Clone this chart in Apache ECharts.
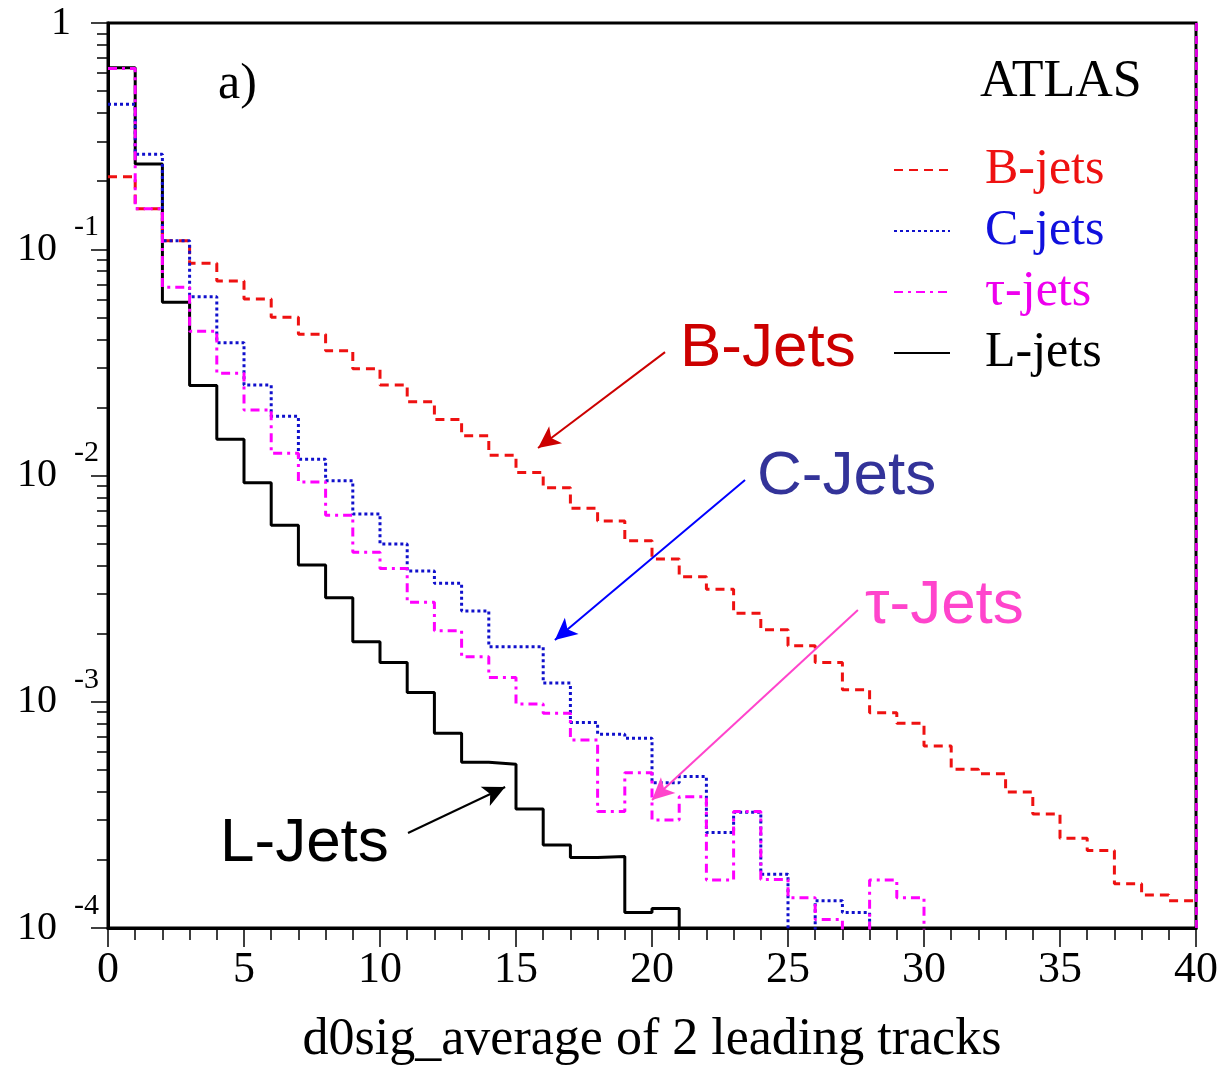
<!DOCTYPE html>
<html><head><meta charset="utf-8">
<script src="https://cdn.jsdelivr.net/npm/echarts@6/dist/echarts.min.js"></script>
<style>html,body{margin:0;padding:0;background:#fff}#c{width:1221px;height:1065px}</style>
</head><body><div id="c"></div>
<script>
// bin lower edges (bin width 1), last edge 40
const binEdges = [0,1,2,3,4,5,6,7,8,9,10,11,12,13,14,15,16,17,18,19,20,21,22,23,24,25,26,27,28,29,30,31,32,33,34,35,36,37,38,39,40];
const xTickLabels = [0,5,10,15,20,25,30,35,40];
const yTickValues = [1e-4,1e-3,1e-2,1e-1,1];

const bJets = [0.209,0.151,0.109,0.0867,0.0724,0.0603,0.0500,0.0421,0.0356,0.0296,
  0.0251,0.0212,0.0177,0.0150,0.0123,0.0103,0.00883,0.00716,0.00629,0.00515,
  0.00428,0.00357,0.00314,0.00246,0.00208,0.00177,0.00149,0.00113,0.000895,0.000803,
  0.000637,0.000503,0.00048,0.000399,0.000319,0.000249,0.00022,0.000157,0.00014,0.000132];
const cJets = [0.437,0.263,0.109,0.0617,0.0386,0.0251,0.01827,0.0118,0.00948,0.00676,
  0.00498,0.00378,0.00334,0.00252,0.00175,0.00175,0.00121,0.00081,0.000718,0.000689,
  0.000439,0.000467,0.000264,0.000325,0.000173,0,0.000132,0.000117,0,0,
  0,0,0,0,0,0,0,0,0,0];
const tauJets = [0.63,0.151,0.068,0.0434,0.0283,0.0195,0.01254,0.00936,0.00667,0.00458,
  0.00388,0.00275,0.00206,0.00158,0.00128,0.000978,0.000889,0.000678,0.000327,0.000486,
  0.0003,0.00038,0.000163,0.000327,0.000164,0.000136,0.000109,0,0.000163,0.000136,
  0,0,0,0,0,0,0,0,0,0];
const lJets = [0.634,0.238,0.0583,0.0250,0.01445,0.00929,0.00603,0.00402,0.00288,0.00184,
  0.00149,0.0011,0.000725,0.00054,0.00053,0.000336,0.000233,0.000205,0.000207,0.000117,
  0.000122,0,0,0,0,0,0,0,0,0,
  0,0,0,0,0,0,0,0,0,0];

// annotation arrows in data coordinates [from, to]
const arrowB = [[20.48,0.0351],[15.81,0.01323]];
const arrowC = [[23.42,0.00955],[16.43,0.001875]];
const arrowTau = [[27.57,0.002545],[20.0,0.000368]];
const arrowL = [[11.03,0.000263],[14.60,0.00042]];

const Y_MIN = 1e-4, Y_MAX = 1;
const minorYTicks = [];
[1e-4,1e-3,1e-2,1e-1].forEach(d => { for (let m = 2; m <= 9; m++) minorYTicks.push(+(d*m).toPrecision(3)); });

// empty bins drop below the axis (clipped), as on a ROOT log plot
function stepData(vals) {
  const floor = Y_MIN / 10;
  const pts = vals.map((v,i) => [binEdges[i], v > 0 ? v : floor]);
  const last = vals[vals.length-1];
  pts.push([binEdges[vals.length], last > 0 ? last : floor]);
  return pts;
}
function arrow(a, color, extra) {
  const data = [[{coord: a[0]}, {coord: a[1]}]];
  if (extra) data.push(extra);
  return { silent: true, symbol: ['none','arrow'], symbolSize: [16,22], animation: false,
    label: {show: false}, lineStyle: {color: color, width: 2, type: 'solid'},
    data: data };
}
const serif = 'Liberation Serif';

const chart = echarts.init(document.getElementById('c'), null, {renderer: 'canvas'});
chart.setOption({
  animation: false,
  backgroundColor: '#fff',
  grid: {left: 108, right: 25, top: 23, bottom: 137, show: true, borderColor: '#000', borderWidth: 3,
    outerBoundsMode: 'none', containLabel: false},
  legend: {
    left: 888, top: 140, orient: 'vertical', itemWidth: 56, itemHeight: 20, itemGap: 11,
    itemStyle: {opacity: 0},
    textStyle: {fontFamily: serif, fontSize: 50, lineHeight: 50, padding: [0,0,0,30]},
    data: [
      {name: 'B-jets', textStyle: {color: '#ee1111'}},
      {name: 'C-jets', textStyle: {color: '#1010dd'}},
      {name: 'τ-jets', textStyle: {color: '#ee00ee'}},
      {name: 'L-jets', textStyle: {color: '#000'}}
    ]
  },
  xAxis: {
    type: 'value', min: 0, max: 40, interval: 5,
    name: 'd0sig_average of 2 leading tracks', nameLocation: 'middle', nameGap: 86,
    nameTextStyle: {fontFamily: serif, fontSize: 52, color: '#000'},
    axisLine: {lineStyle: {color: '#000', width: 3}},
    axisTick: {length: 19, lineStyle: {color: '#000', width: 1.5}},
    minorTick: {show: true, splitNumber: 5, length: 12, lineStyle: {color: '#000', width: 1.5}},
    splitLine: {show: false},
    axisLabel: {fontFamily: serif, fontSize: 44, color: '#000', margin: 20,
      customValues: xTickLabels}
  },
  yAxis: [{
    type: 'log', logBase: 10, min: Y_MIN, max: Y_MAX,
    axisLine: {lineStyle: {color: '#000', width: 3}},
    axisTick: {length: 17, lineStyle: {color: '#000', width: 1.5}, customValues: yTickValues},
    splitLine: {show: false},
    axisLabel: {
      margin: 9, color: '#000', customValues: yTickValues,
      formatter: v => {
        const n = Math.round(Math.log10(v));
        return n === 0 ? '{one|1}' : '{b|10}{s|' + n + '}';
      },
      rich: {
        one: {fontFamily: serif, fontSize: 40, color: '#000', padding: [0,28,0,0], verticalAlign: 'middle'},
        b: {fontFamily: serif, fontSize: 40, color: '#000', verticalAlign: 'middle'},
        s: {fontFamily: serif, fontSize: 30, color: '#000', padding: [0,0,44,17], verticalAlign: 'middle'}
      }
    }
  }, {
    type: 'log', logBase: 10, min: Y_MIN, max: Y_MAX, position: 'left',
    axisLine: {show: false}, axisLabel: {show: false}, splitLine: {show: false},
    axisTick: {length: 11, lineStyle: {color: '#000', width: 1.5}, customValues: minorYTicks}
  }],
  series: [
    {name: 'B-jets', type: 'line', step: 'end', symbol: 'none', yAxisIndex: 0, z: 3,
      lineStyle: {color: '#ee1111', width: 3, type: [9,6]}, itemStyle: {color: '#ee1111'},
      data: stepData(bJets), markLine: arrow(arrowB, '#cc0000')},
    {name: 'C-jets', type: 'line', step: 'end', symbol: 'none', yAxisIndex: 0, z: 4,
      lineStyle: {color: '#1010cc', width: 3, type: [3,3]}, itemStyle: {color: '#1010cc'},
      data: stepData(cJets), markLine: arrow(arrowC, '#0000ff')},
    {name: 'τ-jets', type: 'line', step: 'end', symbol: 'none', yAxisIndex: 0, z: 5,
      lineStyle: {color: '#ff00ff', width: 3, type: [9,5,3,5]}, itemStyle: {color: '#ff00ff'},
      data: stepData(tauJets),
      markLine: arrow(arrowTau, '#ff44cc', [
        {coord: [40, Y_MIN], symbol: 'none', lineStyle: {color: '#dd00dd', width: 3, type: [8,5]}},
        {coord: [40, Y_MAX], symbol: 'none'}])},
    {name: 'L-jets', type: 'line', step: 'end', symbol: 'none', yAxisIndex: 0, z: 2,
      lineStyle: {color: '#000', width: 3, type: 'solid'}, itemStyle: {color: '#000'},
      data: stepData(lJets), markLine: arrow(arrowL, '#000')}
  ],
  graphic: [
    {type: 'text', left: 218, top: 60, style: {text: 'a)', font: '50px "Liberation Serif"', fill: '#000'}},
    {type: 'text', left: 980, top: 56, style: {text: 'ATLAS', font: '52px "Liberation Serif"', fill: '#000'}},
    {type: 'text', left: 680, top: 318, style: {text: 'B-Jets', font: '62px "Liberation Sans"', fill: '#cc0000'}},
    {type: 'text', left: 757, top: 446, style: {text: 'C-Jets', font: '62px "Liberation Sans"', fill: '#333399'}},
    {type: 'text', left: 865, top: 575, style: {text: 'τ-Jets', font: '62px "Liberation Sans"', fill: '#ff44cc'}},
    {type: 'text', left: 220, top: 813, style: {text: 'L-Jets', font: '62px "Liberation Sans"', fill: '#000'}}
  ]
});
</script>
</body></html>
